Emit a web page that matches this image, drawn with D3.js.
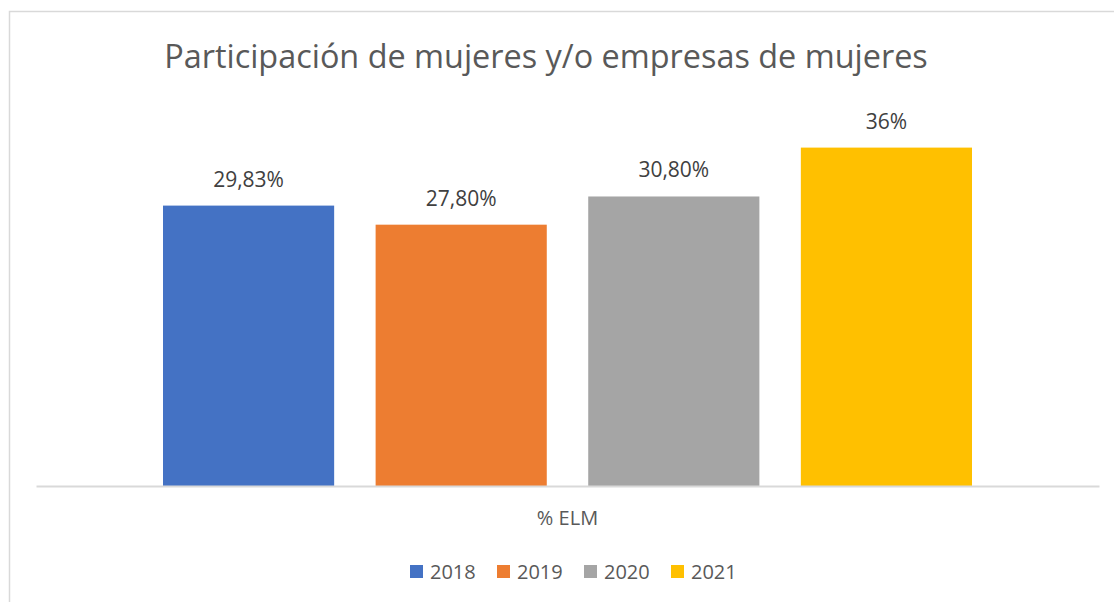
<!DOCTYPE html>
<html>
<head>
<meta charset="utf-8">
<script src="https://cdn.jsdelivr.net/npm/d3@7"></script>
<style>
  body { margin: 0; background: #fff; }
  svg { display: block; font-family: "Open Sans", sans-serif; }
</style>
</head>
<body>
<svg id="chart"></svg>
<script>
var categories = ["% ELM"];
var years = ["2018", "2019", "2020", "2021"];
var values = [29.83, 27.80, 30.80, 36];
var valueLabels = ["29,83%", "27,80%", "30,80%", "36%"];
var colors = ["#4472c4", "#ed7d31", "#a5a5a5", "#ffc000"];

var w = 1114;
var h = 602;
var plot = { left: 36, right: 1099, top: 110, bottom: 486 };

var svg = d3.select("#chart")
  .attr("width", w)
  .attr("height", h);

// chart frame (right and bottom edges fall outside the picture)
svg.append("path")
  .attr("d", "M9.5," + h + "V11.5H" + w)
  .attr("fill", "none")
  .attr("stroke", "#d9d9d9")
  .attr("stroke-width", 1.5);

svg.append("text")
  .attr("x", 546)
  .attr("y", 68)
  .attr("text-anchor", "middle")
  .attr("font-size", 32.4)
  .attr("fill", "#595959")
  .text("Participación de mujeres y/o empresas de mujeres");

var x0 = d3.scaleBand()
  .domain(categories)
  .range([plot.left, plot.right]);

var outerGap = 127;
var x1 = d3.scaleBand()
  .domain(years)
  .range([outerGap, x0.bandwidth() - outerGap])
  .paddingInner(0.195);

var y = d3.scaleLinear()
  .domain([0, 40])
  .range([plot.bottom, plot.top]);

var rows = years.map(function(yr, i) {
  return { year: yr, value: values[i], label: valueLabels[i], color: colors[i] };
});

var g = svg.append("g")
  .attr("transform", "translate(" + x0(categories[0]) + ",0)");

g.selectAll("rect")
  .data(rows)
  .enter().append("rect")
  .attr("x", function(d) { return x1(d.year); })
  .attr("y", function(d) { return y(d.value); })
  .attr("width", x1.bandwidth())
  .attr("height", function(d) { return y(0) - y(d.value); })
  .attr("fill", function(d) { return d.color; });

g.selectAll(".lbl")
  .data(rows)
  .enter().append("text")
  .attr("class", "lbl")
  .attr("x", function(d) { return x1(d.year) + x1.bandwidth() / 2; })
  .attr("y", function(d) { return y(d.value) - 19; })
  .attr("text-anchor", "middle")
  .attr("font-size", 21)
  .attr("fill", "#404040")
  .text(function(d) { return d.label; });

var xAxis = d3.axisBottom(x0).tickSize(0).tickPadding(25);
var ax = svg.append("g")
  .attr("transform", "translate(0," + plot.bottom + ")")
  .call(xAxis);
ax.select(".domain")
  .attr("stroke", "#d9d9d9")
  .attr("stroke-width", 2);
ax.selectAll("text")
  .attr("font-family", "Open Sans, sans-serif")
  .attr("font-size", 20)
  .attr("fill", "#595959");

// legend
var legend = svg.append("g");
var lx = [410, 497, 584, 671];
var item = legend.selectAll("g")
  .data(rows)
  .enter().append("g")
  .attr("transform", function(d, i) { return "translate(" + lx[i] + ",565)"; });
item.append("rect")
  .attr("width", 13)
  .attr("height", 13)
  .attr("fill", function(d) { return d.color; });
item.append("text")
  .attr("x", 20)
  .attr("y", 14)
  .attr("font-size", 20)
  .attr("fill", "#595959")
  .text(function(d) { return d.year; });
</script>
</body>
</html>
